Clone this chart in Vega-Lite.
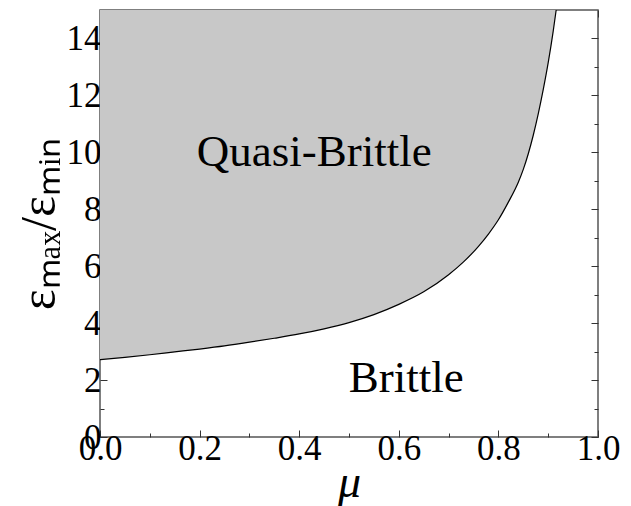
{
  "$schema": "https://vega.github.io/schema/vega-lite/v6.json",
  "width": 498,
  "height": 427,
  "autosize": "none",
  "padding": {"left": 100, "top": 10, "right": 33, "bottom": 69},
  "background": "white",
  "config": {
    "view": {"stroke": "#555555", "strokeWidth": 1.5},
    "axis": {"domain": false, "grid": false, "labelFlush": false, "labelOverlap": false, "tickColor": "#333333", "tickWidth": 1, "labelColor": "black", "labelFont": "Liberation Serif", "labelFontSize": 35, "titleFont": "Liberation Serif", "titleColor": "black", "titleFontWeight": "normal"}
  },
  "data": {"values": [
    {"mu": 0.00, "r": 2.72},
    {"mu": 0.05, "r": 2.80},
    {"mu": 0.10, "r": 2.89},
    {"mu": 0.15, "r": 2.99},
    {"mu": 0.20, "r": 3.09},
    {"mu": 0.25, "r": 3.20},
    {"mu": 0.30, "r": 3.33},
    {"mu": 0.35, "r": 3.47},
    {"mu": 0.40, "r": 3.62},
    {"mu": 0.45, "r": 3.80},
    {"mu": 0.50, "r": 4.02},
    {"mu": 0.55, "r": 4.30},
    {"mu": 0.60, "r": 4.66},
    {"mu": 0.65, "r": 5.10},
    {"mu": 0.70, "r": 5.70},
    {"mu": 0.73, "r": 6.15},
    {"mu": 0.76, "r": 6.70},
    {"mu": 0.78, "r": 7.13},
    {"mu": 0.80, "r": 7.63},
    {"mu": 0.82, "r": 8.25},
    {"mu": 0.84, "r": 8.95},
    {"mu": 0.85, "r": 9.40},
    {"mu": 0.86, "r": 9.95},
    {"mu": 0.87, "r": 10.60},
    {"mu": 0.88, "r": 11.35},
    {"mu": 0.89, "r": 12.20},
    {"mu": 0.90, "r": 13.15},
    {"mu": 0.91, "r": 14.25},
    {"mu": 0.916, "r": 15.0}
  ]},
  "layer": [
    {
      "mark": {"type": "area", "color": "#c8c8c8", "opacity": 1, "interpolate": "monotone"},
      "encoding": {
        "x": {"field": "mu", "type": "quantitative", "scale": {"domain": [0, 1], "nice": false},
          "axis": {"orient": "bottom", "values": [0, 0.2, 0.4, 0.6, 0.8, 1.0], "format": ".1f", "tickSize": -7, "labelPadding": 1, "labelBaseline": "top", "labelFlush": false, "labelFont": "Liberation Serif", "labelFontSize": 35, "labelColor": "black", "title": "μ", "titleFont": "Liberation Serif", "titleFontSize": 46, "titleFontStyle": "italic", "titlePadding": -6}},
        "y": {"field": "r", "type": "quantitative", "scale": {"domain": [0, 15], "nice": false, "zero": false},
          "axis": {"orient": "left", "values": [0, 2, 4, 6, 8, 10, 12, 14], "tickSize": -7, "labelPadding": 6, "labelFlush": false, "labelFont": "Liberation Serif", "labelFontSize": 35, "labelColor": "black", "title": "εₘₐₓ/εₘᵢₙ", "titleFont": "Liberation Serif", "titleFontSize": 50, "titlePadding": 2}},
        "y2": {"datum": 15}
      }
    },
    {
      "mark": {"type": "line", "color": "black", "strokeWidth": 1.2, "interpolate": "monotone"},
      "encoding": {
        "x": {"field": "mu", "type": "quantitative", "axis": {"orient": "bottom", "values": [0.1, 0.3, 0.5, 0.7, 0.9], "labels": false, "tickSize": -4, "title": null}},
        "y": {"field": "r", "type": "quantitative", "axis": {"orient": "left", "values": [1, 3, 5, 7, 9, 11, 13], "labels": false, "tickSize": -4, "title": null}}
      }
    },
    {
      "data": {"values": [{"mu": 0.43, "r": 10.0, "label": "Quasi-Brittle"}]},
      "mark": {"type": "text", "font": "Liberation Serif", "fontSize": 45, "color": "black", "align": "center", "baseline": "middle"},
      "encoding": {
        "x": {"field": "mu", "type": "quantitative", "axis": {"orient": "top", "values": [0, 0.2, 0.4, 0.6, 0.8, 1.0], "labels": false, "tickSize": -7, "title": null}},
        "y": {"field": "r", "type": "quantitative", "axis": {"orient": "right", "values": [0, 2, 4, 6, 8, 10, 12, 14], "labels": false, "tickSize": -7, "title": null}},
        "text": {"field": "label"}
      }
    },
    {
      "data": {"values": [{"mu": 0.615, "r": 2.07, "label": "Brittle"}]},
      "mark": {"type": "text", "font": "Liberation Serif", "fontSize": 45, "color": "black", "align": "center", "baseline": "middle"},
      "encoding": {
        "x": {"field": "mu", "type": "quantitative", "axis": {"orient": "top", "values": [0.1, 0.3, 0.5, 0.7, 0.9], "labels": false, "tickSize": -4, "title": null}},
        "y": {"field": "r", "type": "quantitative", "axis": {"orient": "right", "values": [1, 3, 5, 7, 9, 11, 13], "labels": false, "tickSize": -4, "title": null}},
        "text": {"field": "label"}
      }
    }
  ],
  "resolve": {"axis": {"x": "independent", "y": "independent"}}
}
